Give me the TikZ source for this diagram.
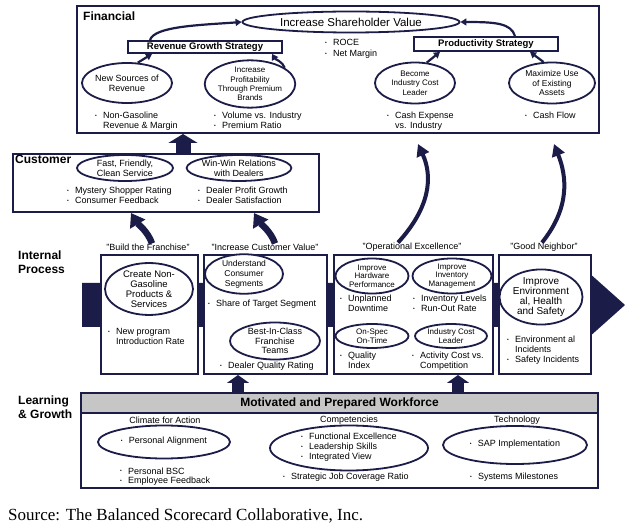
\documentclass[tikz,border=0pt]{standalone}
\usepackage{fontspec}
\setmainfont{Liberation Sans}
\newfontfamily\srcfont{Liberation Serif}
\usepackage{graphicx}
\usetikzlibrary{positioning, arrows.meta, shapes.geometric, calc}
\definecolor{bscnavy}{RGB}{28,28,72}
\definecolor{bscgray}{RGB}{198,198,198}
\newcommand{\bul}{\makebox[8pt][l]{\raisebox{0.35ex}{\scalebox{0.55}{\textbullet}}}}
\newcommand{\meas}[1]{\begin{tabular}{@{}l@{}l@{}}#1\end{tabular}}

\begin{document}
\begin{tikzpicture}[x=1pt, y=-1pt,
  panel/.style={draw=bscnavy, line width=2pt, fill=white, inner sep=0pt, anchor=north west},
  goal/.style={ellipse, draw=bscnavy, line width=1.8pt, fill=white, inner sep=0pt, align=center},
  strat/.style={draw=bscnavy, line width=1.8pt, fill=white, inner sep=0pt, font=\fontsize{9.5}{11}\selectfont\bfseries},
  sect/.style={anchor=west, align=left, inner sep=0pt, font=\fontsize{12}{14}\selectfont\bfseries},
  kpi/.style={anchor=west, inner sep=0pt, font=\fontsize{9}{10}\selectfont},
  theme/.style={inner sep=0pt, font=\fontsize{9}{11}\selectfont},
  link/.style={-{Triangle[length=6pt, width=7pt]}, line width=2.2pt, draw=bscnavy},
  lift/.style={-{Triangle[length=12pt, width=13pt]}, line width=4pt, draw=bscnavy},
  push/.style={-{Triangle[length=13pt, width=17pt]}, line width=6.5pt, draw=bscnavy},
  block/.style={-{Triangle[length=8pt, width=22pt]}, line width=12pt, draw=bscnavy}
]
  \fill[white] (0,0) rectangle (630,529);
  \useasboundingbox (0,0) rectangle (630,529);

  % process band behind the themes
  \fill[bscnavy] (82,283) -- (588,283) -- (588,272) -- (625,305) -- (588,338) -- (588,327) -- (82,327) -- cycle;

  % perspectives
  \node[panel, minimum width=522pt, minimum height=127pt] (fin) at (76,5) {};
  \node[panel, minimum width=306pt, minimum height=58pt] (cust) at (12,153) {};
  \node[panel, minimum width=97pt, minimum height=119pt] (b1) at (100,254) {};
  \node[panel, minimum width=123pt, minimum height=119pt] (b2) at (203,254) {};
  \node[panel, minimum width=159pt, minimum height=119pt] (b3) at (333,254) {};
  \node[panel, minimum width=92pt, minimum height=119pt] (b4) at (498,254) {};
  \node[panel, minimum width=517pt, minimum height=95pt] (lg) at (80,392) {};
  \node[panel, fill=bscgray, minimum width=517pt, minimum height=20pt, font=\fontsize{12}{14}\selectfont\bfseries] (mpw) at (80,392) {Motivated and Prepared Workforce};

  \node[sect] (finl) at (83,16) {Financial};
  \node[sect] (custl) at (15,159) {Customer};
  \node[sect] (ipl) at (18,262) {Internal\\Process};
  \node[sect] (lgl) at (18,407) {Learning\\\& Growth};

  % financial
  \node[goal, minimum width=217pt, minimum height=21pt, font=\fontsize{11.5}{13}\selectfont] (shv) at (351,22) {Increase Shareholder Value};
  \node[strat, minimum width=154pt, minimum height=12pt] (rev) at (205,47) {Revenue Growth Strategy};
  \node[strat, minimum width=144pt, minimum height=14pt] (prod) at (486,44) {Productivity Strategy};
  \node[kpi, font=\fontsize{9}{11}\selectfont] (roce) at (325,49) {\meas{\bul & ROCE\\ \bul & Net Margin}};
  \node[goal, minimum width=90pt, minimum height=40pt, font=\fontsize{9}{10}\selectfont] (nsr) at (127,83) {New Sources of\\Revenue};
  \node[goal, minimum width=86pt, minimum height=42pt, font=\fontsize{8}{9.3}\selectfont] (ipb) at (250,84) {Increase\\Profitability\\Through Premium\\Brands};
  \node[goal, minimum width=80pt, minimum height=41pt, font=\fontsize{8}{9.5}\selectfont] (bicl) at (415,83) {Become\\Industry Cost\\Leader};
  \node[goal, minimum width=86pt, minimum height=41pt, font=\fontsize{8.5}{9.5}\selectfont] (mue) at (552,83) {Maximize Use\\of Existing\\Assets};
  \node[kpi] (ngr) at (95,122) {\meas{\bul & Non-Gasoline\\ & Revenue \& Margin}};
  \node[kpi] (vpr) at (214,122) {\meas{\bul & Volume vs. Industry\\ \bul & Premium Ratio}};
  \node[kpi] (cex) at (387,122) {\meas{\bul & Cash Expense\\ & vs. Industry}};
  \node[kpi] (cfl) at (525,117) {\meas{\bul & Cash Flow}};

  % customer
  \node[goal, minimum width=96pt, minimum height=26pt, font=\fontsize{9}{10}\selectfont] (ffc) at (125,168) {Fast, Friendly,\\Clean Service};
  \node[goal, minimum width=99pt, minimum height=26pt, font=\fontsize{9}{10}\selectfont] (wwr) at (239,168) {Win-Win Relations\\with Dealers};
  \node[kpi] (msr) at (67,197) {\meas{\bul & Mystery Shopper Rating\\ \bul & Consumer Feedback}};
  \node[kpi] (dpg) at (198,197) {\meas{\bul & Dealer Profit Growth\\ \bul & Dealer Satisfaction}};

  % internal process
  \node[theme] (bf) at (148,247) {"Build the Franchise"};
  \node[theme] (icv) at (265,247) {"Increase Customer Value"};
  \node[theme] (oe) at (412,247) {"Operational Excellence"};
  \node[theme] (gn) at (544,247) {"Good Neighbor"};

  \node[goal, minimum width=88pt, minimum height=48pt, font=\fontsize{9.5}{10}\selectfont] (cng) at (149,289) {Create Non-\\Gasoline\\Products \&\\Services};
  \node[kpi] (npi) at (108,338) {\meas{\bul & New program\\ & Introduction Rate}};
  \node[goal, minimum width=78pt, minimum height=36pt, font=\fontsize{8.5}{10}\selectfont] (ucs) at (244,274) {Understand\\Consumer\\Segments};
  \node[kpi] (sts) at (208,305) {\meas{\bul & Share of Target Segment}};
  \node[goal, minimum width=90pt, minimum height=37pt, font=\fontsize{9}{9.5}\selectfont] (bft) at (275,341) {Best-In-Class\\Franchise\\Teams};
  \node[kpi] (dqr) at (220,367) {\meas{\bul & Dealer Quality Rating}};

  \node[goal, minimum width=73pt, minimum height=35pt, font=\fontsize{8}{8.5}\selectfont] (ihp) at (372,276) {Improve\\Hardware\\Performance};
  \node[goal, minimum width=79pt, minimum height=35pt, font=\fontsize{8}{8.5}\selectfont] (iim) at (452,276) {Improve\\Inventory\\Management};
  \node[kpi] (udt) at (340,305) {\meas{\bul & Unplanned\\ & Downtime}};
  \node[kpi] (ilv) at (413,305) {\meas{\bul & Inventory Levels\\ \bul & Run-Out Rate}};
  \node[goal, minimum width=73pt, minimum height=24pt, font=\fontsize{8}{9.5}\selectfont] (ost) at (372,336) {On-Spec\\On-Time};
  \node[goal, minimum width=72pt, minimum height=24pt, font=\fontsize{8}{9.5}\selectfont] (icl) at (451,336) {Industry Cost\\Leader};
  \node[kpi] (qix) at (340,362) {\meas{\bul & Quality\\ & Index}};
  \node[kpi] (acc) at (412,362) {\meas{\bul & Activity Cost vs.\\ & Competition}};

  \node[goal, minimum width=83pt, minimum height=53pt, font=\fontsize{10}{10}\selectfont] (ehs) at (541,297) {Improve\\Environment\\al, Health\\and Safety};
  \node[kpi] (eis) at (507,351) {\meas{\bul & Environment al\\ & Incidents\\ \bul & Safety Incidents}};

  % learning and growth
  \node[theme] (cfa) at (165,420) {Climate for Action};
  \node[theme] (cmp) at (349,420) {Competencies};
  \node[theme] (tec) at (517,420) {Technology};
  \node[goal, minimum width=132pt, minimum height=33pt, font=\fontsize{9}{10}\selectfont] (pal) at (164,442) {\meas{\bul & Personal Alignment}};
  \node[goal, minimum width=158pt, minimum height=45pt, font=\fontsize{9}{10}\selectfont] (fel) at (349,448) {\meas{\bul & Functional Excellence\\ \bul & Leadership Skills\\ \bul & Integrated View}};
  \node[goal, minimum width=144pt, minimum height=38pt, font=\fontsize{9}{10}\selectfont] (sap) at (515,445) {\meas{\bul & SAP Implementation}};
  \node[kpi] (pbs) at (120,477) {\meas{\bul & Personal BSC\\ \bul & Employee Feedback}};
  \node[kpi] (sjc) at (283,478) {\meas{\bul & Strategic Job Coverage Ratio}};
  \node[kpi] (sms) at (470,478) {\meas{\bul & Systems Milestones}};

  \node[anchor=west, inner sep=0pt, font=\srcfont\fontsize{17}{20}\selectfont] (src) at (8,516) {Source: The Balanced Scorecard Collaborative, Inc.};

  % links inside financial
  \draw[link] (nsr.62) -- ([xshift=-53pt]rev.south);
  \draw[link] (ipb.25) .. controls +(-2,-6) and +(3,5) .. ([xshift=67pt]rev.south);
  \draw[link] ([xshift=-55pt]rev.north) .. controls +(4,-14) and +(-40,3) .. (shv.west);
  \draw[link] ([xshift=29pt]prod.north) .. controls +(-4,-13) and +(35,0) .. (shv.east);
  \draw[link] (bicl.60) -- ([xshift=-46pt]prod.south);
  \draw[link] (mue.112) -- ([xshift=44pt]prod.south);

  % between perspectives
  \draw[block, line width=15pt, -{Triangle[length=9pt, width=29pt]}] ([xshift=17pt]cust.north) -- ([xshift=-155pt]fin.south);
  \draw[push] ([xshift=4pt]bf.north) .. controls +(-4,-12) and +(6,10) .. ([xshift=-35pt]cust.south);
  \draw[push] ([xshift=10pt]icv.north) .. controls +(-4,-12) and +(6,10) .. ([xshift=88pt]cust.south);
  \draw[lift] ([xshift=-14pt]oe.north) .. controls +(32,-35) and +(15,33) .. ([xshift=80pt,yshift=-10pt]fin.south);
  \draw[lift] ([xshift=-2pt]gn.north) .. controls +(28,-35) and +(13,33) .. ([xshift=216pt,yshift=-10pt]fin.south);
  \draw[block] ([xshift=-101.5pt]lg.north) -- ([xshift=-27.5pt]b2.south);
  \draw[block] ([xshift=118.5pt]lg.north) -- ([xshift=44.5pt]b3.south);
\end{tikzpicture}
\end{document}
